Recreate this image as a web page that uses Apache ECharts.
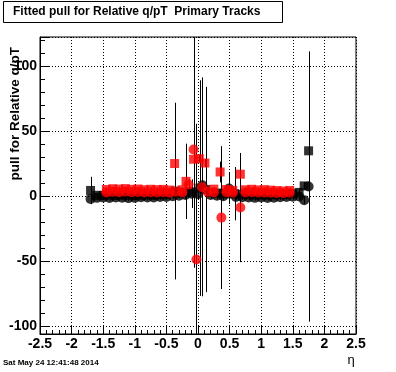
<!DOCTYPE html>
<html>
<head>
<meta charset="utf-8">
<script src="https://cdn.jsdelivr.net/npm/echarts@6/dist/echarts.min.js"></script>
<style>
html,body{margin:0;padding:0;background:#fff;}
#c{width:396px;height:372px;}
</style>
</head>
<body>
<div id="c"></div>
<script>
// ---- data ----
const titleText = 'Fitted pull for Relative q/pT  Primary Tracks';
const yTitle = 'pull for Relative q/pT';
const xTitle = 'η';
const dateText = 'Sat May 24 12:41:48 2014';

const xTicks = [-2.5, -2, -1.5, -1, -0.5, 0, 0.5, 1, 1.5, 2, 2.5];
const yTicks = [-100, -50, 0, 50, 100];
const xRange = [-2.5, 2.5];
const yRange = [-106, 122.6];

// black squares
const etaBS = [-1.7,-1.6,-1.5,-1.4,-1.3,-1.2,-1.1,-1.0,-0.9,-0.8,-0.7,-0.6,-0.5,-0.36,-0.3,-0.2,-0.1,0.03,0.12,0.2,0.3,0.4,0.5,0.58,0.7,0.8,0.9,1.0,1.1,1.2,1.3,1.4,1.5,1.6,1.68,1.75];
const valBS = [4.5,0.8,0.6,0.9,0.7,1.0,0.8,0.6,0.9,1.1,0.8,1.2,1.5,4.0,2.5,3.0,3.5,6.3,5.2,3.0,2.5,2.0,1.8,2.0,1.5,1.2,1.0,1.1,0.9,1.2,1.4,1.6,2.0,3.0,8.0,35.0];
const errBS = [10.5,2,2,2,2,2,2,2,2,2,2,2,2,68,3,4,5,83,79,3,3,3,3,20.5,2,2,2,2,2,2,2,2,2,3,3,4];

// black circles
const etaBC = [-1.7,-1.6,-1.5,-1.4,-1.3,-1.2,-1.1,-1.0,-0.9,-0.8,-0.7,-0.6,-0.5,-0.4,-0.3,-0.2,-0.1,0.0,0.07,0.2,0.3,0.4,0.49,0.6,0.7,0.8,0.9,1.0,1.1,1.2,1.3,1.4,1.5,1.6,1.68,1.75];
const valBC = [-2.0,-1.2,-1.0,-1.3,-0.9,-1.1,-1.4,-1.2,-0.8,-1.0,-0.9,-0.6,-0.5,0.0,0.5,1.0,2.0,1.5,8.5,1.0,0.5,0.0,6.0,-0.5,-0.8,-1.0,-1.2,-1.0,-1.3,-1.1,-0.8,-0.6,-0.4,-0.2,-3.0,7.5];
const errBC = [4,2,2,2,2,2,2,2,2,2,2,2,2,2,2,3,11,4,83,3,3,3,12,2,2,2,2,2,2,2,2,2,2,2,3,104];

// red circles
const etaRC = [-1.45,-1.35,-1.25,-1.15,-1.05,-0.95,-0.85,-0.75,-0.65,-0.55,-0.45,-0.35,-0.25,-0.15,-0.07,-0.025,0.065,0.15,0.25,0.37,0.45,0.55,0.67,0.75,0.85,0.95,1.05,1.15,1.25,1.35,1.45];
const valRC = [3.0,3.4,3.2,3.6,3.1,3.3,2.9,3.2,3.0,3.1,2.8,3.5,3.0,9.0,36.0,-48.7,7.0,3.4,3.0,-16.4,3.2,2.8,-8.7,3.0,3.1,2.9,3.0,2.8,2.6,2.4,2.7];
const errRC = [1.2,1.2,1.2,1.2,1.2,1.2,1.2,1.2,1.2,1.2,1.2,1.5,1.5,4,91,104.5,84,2,2,55,2,2,42,1.5,1.2,1.2,1.2,1.2,1.2,1.2,1.2];

// red squares
const etaRS = [-1.45,-1.35,-1.25,-1.15,-1.05,-0.95,-0.85,-0.75,-0.65,-0.55,-0.45,-0.37,-0.25,-0.19,-0.07,0.02,0.11,0.25,0.35,0.45,0.55,0.67,0.75,0.85,0.95,1.05,1.15,1.25,1.35,1.45];
const valRS = [5.2,5.8,5.5,5.9,5.3,5.6,5.0,5.4,5.1,5.3,4.8,25.2,5.0,11.5,28.5,29.0,25.6,5.5,18.7,5.2,4.6,17.0,5.0,5.4,4.9,5.1,4.7,4.4,4.0,4.5];
const errRS = [1.5,1.5,1.5,1.5,1.5,1.5,1.5,1.5,1.5,1.5,1.5,3,1.5,29,3,3,3,1.5,8,1.5,1.5,16,1.5,1.5,1.5,1.5,1.5,1.5,1.5,1.5];

// ---- build ----
function pairs(xs, ys) { return xs.map((x, i) => [x, ys[i]]); }
function triples(xs, ys, es) { return xs.map((x, i) => [x, ys[i], es[i]]); }

const errData = [].concat(
  triples(etaBS, valBS, errBS),
  triples(etaBC, valBC, errBC),
  triples(etaRC, valRC, errRC),
  triples(etaRS, valRS, errRS)
);

const FONT = '"Liberation Sans", Arial, Helvetica, sans-serif';
const chart = echarts.init(document.getElementById('c'), null, {renderer: 'canvas'});

const option = {
  animation: false,
  backgroundColor: '#ffffff',
  title: {
    text: titleText,
    left: 3, top: 1,
    padding: [4, 22, 4, 10],
    borderColor: '#000', borderWidth: 1,
    backgroundColor: '#fff',
    textStyle: {fontFamily: FONT, fontSize: 12, fontWeight: 'bold', color: '#000', lineHeight: 14}
  },
  grid: {left: 40, right: 40, top: 37, bottom: 38, show: true, borderColor: '#000', borderWidth: 1, backgroundColor: 'transparent'},
  xAxis: {
    type: 'value', min: xRange[0], max: xRange[1], interval: 0.5,
    axisLine: {show: true, onZero: false, lineStyle: {color: '#000', width: 1}},
    axisTick: {show: true, inside: true, length: 8, lineStyle: {color: '#000'}},
    minorTick: {show: true, splitNumber: 5, length: 4, lineStyle: {color: '#000'}},
    splitLine: {show: true, lineStyle: {color: '#000', type: [1, 2], width: 1}},
    axisLabel: {
      margin: 3, color: '#000', fontFamily: FONT, fontSize: 14, fontWeight: 'bold',
      formatter: v => xTicks.some(t => Math.abs(t - v) < 1e-9) ? String(v) : ''
    }
  },
  yAxis: {
    type: 'value', min: yRange[0], max: yRange[1], minInterval: 50, maxInterval: 50, splitNumber: 5,
    axisLine: {show: true, onZero: false, lineStyle: {color: '#000', width: 1}},
    axisTick: {show: true, inside: true, length: 9, lineStyle: {color: '#000'}},
    minorTick: {show: true, splitNumber: 5, length: 5, lineStyle: {color: '#000'}},
    splitLine: {show: true, lineStyle: {color: '#000', type: [1, 2], width: 1}},
    axisLabel: {
      margin: 3, color: '#000', fontFamily: FONT, fontSize: 14, fontWeight: 'bold',
      showMinLabel: false, showMaxLabel: false,
      formatter: v => yTicks.some(t => Math.abs(t - v) < 1e-9) ? String(v) : ''
    }
  },
  graphic: [
    {type: 'text', x: 15, y: 47, rotation: Math.PI / 2,
     style: {text: yTitle, fill: '#000', font: 'bold 13.5px ' + FONT, align: 'right', verticalAlign: 'middle'}},
    {type: 'text', x: 351, y: 360,
     style: {text: xTitle, fill: '#000', font: '13px ' + FONT, align: 'center', verticalAlign: 'middle'}},
    {type: 'text', x: 3, y: 363,
     style: {text: dateText, fill: '#000', font: 'bold 8px ' + FONT, align: 'left', verticalAlign: 'middle'}}
  ],
  series: [
    {
      type: 'custom', name: 'errors', z: 2, silent: true,
      data: errData,
      encode: {x: 0, y: 1},
      renderItem: function (params, api) {
        const x = api.value(0), y = api.value(1), e = api.value(2);
        const hi = Math.min(y + e, yRange[1]);
        const lo = Math.max(y - e, yRange[0]);
        const p1 = api.coord([x, hi]);
        const p2 = api.coord([x, lo]);
        const px = Math.round(p1[0]) + 0.5;
        return {type: 'line', shape: {x1: px, y1: p1[1], x2: px, y2: p2[1]},
                style: {stroke: '#000', lineWidth: 1}};
      }
    },
    {type: 'scatter', name: 'black squares', z: 3, symbol: 'rect', symbolSize: 9,
     itemStyle: {color: '#000'}, data: pairs(etaBS, valBS)},
    {type: 'scatter', name: 'black circles', z: 3, symbol: 'circle', symbolSize: 10,
     itemStyle: {color: '#000'}, data: pairs(etaBC, valBC)},
    {type: 'scatter', name: 'red circles', z: 4, symbol: 'circle', symbolSize: 10,
     itemStyle: {color: '#ff0000'}, data: pairs(etaRC, valRC)},
    {type: 'scatter', name: 'red squares', z: 5, symbol: 'rect', symbolSize: 9,
     itemStyle: {color: '#ff0000'}, data: pairs(etaRS, valRS)}
  ]
};
chart.setOption(option);
</script>
</body>
</html>
